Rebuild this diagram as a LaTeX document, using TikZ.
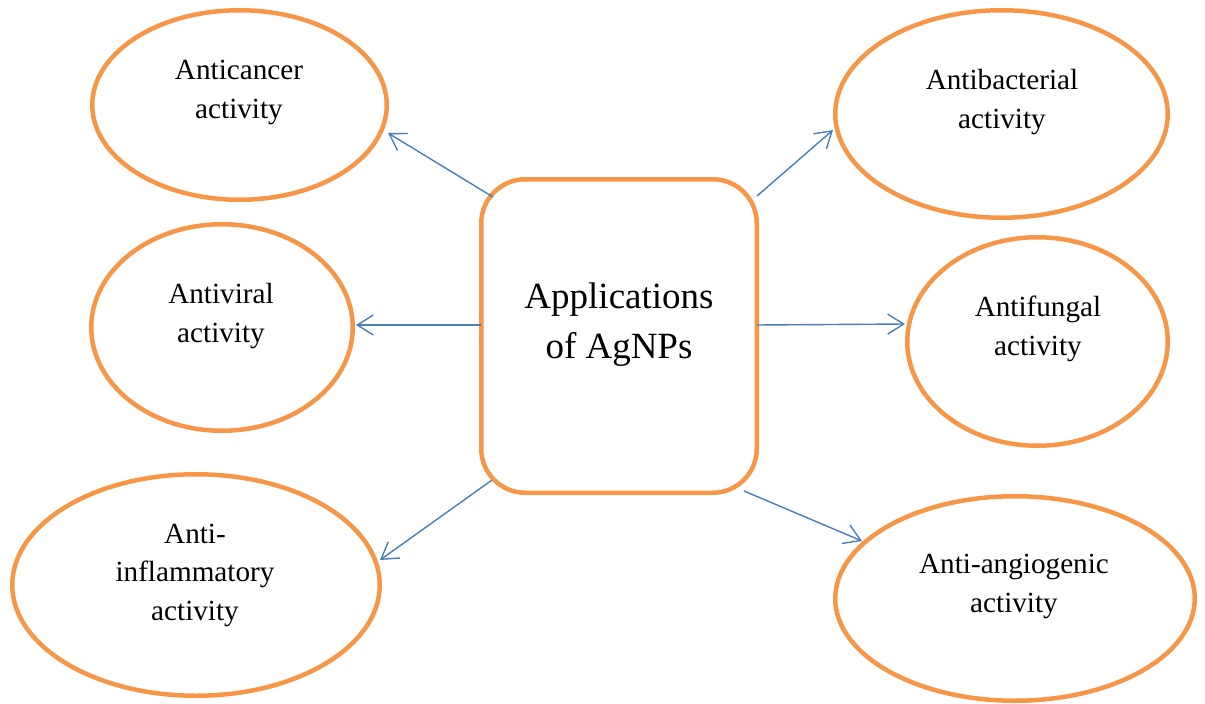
\documentclass[tikz,border=0pt]{standalone}
\usepackage{fontspec}
\setmainfont{Liberation Serif}
\usetikzlibrary{arrows.meta,calc,shapes.geometric}
\definecolor{agorange}{HTML}{F79646}
\definecolor{agblue}{HTML}{4A7EBB}
\tikzset{
  ell/.style={draw=agorange, line width=4.5pt, ellipse, inner sep=0pt},
  centerbox/.style={draw=agorange, line width=4.5pt, rounded corners=44pt, inner sep=0pt},
  lbl/.style={font=\fontsize{29.2}{38.5}\selectfont, align=center, anchor=base, inner sep=0pt},
  biglbl/.style={font=\fontsize{37}{50}\selectfont, align=center, anchor=base, inner sep=0pt},
  arr/.style={draw=agblue, line width=1.4pt, -{Straight Barb[length=16pt,width=20pt]}}
}
\begin{document}
\begin{tikzpicture}[x=1pt,y=-1pt]
\useasboundingbox (0,0) rectangle (1205,704);
% centre box
\node[centerbox, minimum width=275.5pt, minimum height=313.5pt] (box) at (619,336) {};
\node[biglbl] (boxtxt) at (619,358) {Applications\\of AgNPs};
% ellipses
\node[ell, minimum width=294.5pt, minimum height=189.5pt] (cancer) at (239.5,105) {};
\node[ell, minimum width=261.5pt, minimum height=206.5pt] (viral) at (222,327.5) {};
\node[ell, minimum width=367.5pt, minimum height=221.5pt] (inflam) at (196,585) {};
\node[ell, minimum width=332.5pt, minimum height=207.5pt] (bact) at (1001.5,114) {};
\node[ell, minimum width=260.5pt, minimum height=208.5pt] (fungal) at (1037.5,341.5) {};
\node[ell, minimum width=359.5pt, minimum height=204.5pt] (angio) at (1015,598.5) {};
% labels
\node[lbl] (cancertxt) at (239,118) {Anticancer\\activity};
\node[lbl] (viraltxt) at (221,342) {Antiviral\\activity};
\node[lbl] (inflamtxt) at (195,620) {Anti-\\inflammatory\\activity};
\node[lbl] (bacttxt) at (1002,128) {Antibacterial\\activity};
\node[lbl] (fungaltxt) at (1038,355) {Antifungal\\activity};
\node[lbl] (angiotxt) at (1014,612) {Anti-angiogenic\\activity};
% connectors
\draw[arr] ($(box.center)+(-126,-139)$) -- ($(cancer.center)+(148.5,28)$);
\draw[arr] ($(box.center)+(-138,-11)$) -- ($(viral.center)+(134,-2.5)$);
\draw[arr] ($(box.center)+(-127,144)$) -- ($(inflam.center)+(184,-25)$);
\draw[arr] ($(box.center)+(138,-140)$) -- ($(bact.center)+(-168.5,16)$);
\draw[arr] ($(box.center)+(138,-11)$) -- ($(fungal.center)+(-132.5,-17.5)$);
\draw[arr] ($(box.center)+(125,155)$) -- ($(angio.center)+(-153,-57.5)$);
\end{tikzpicture}
\end{document}
